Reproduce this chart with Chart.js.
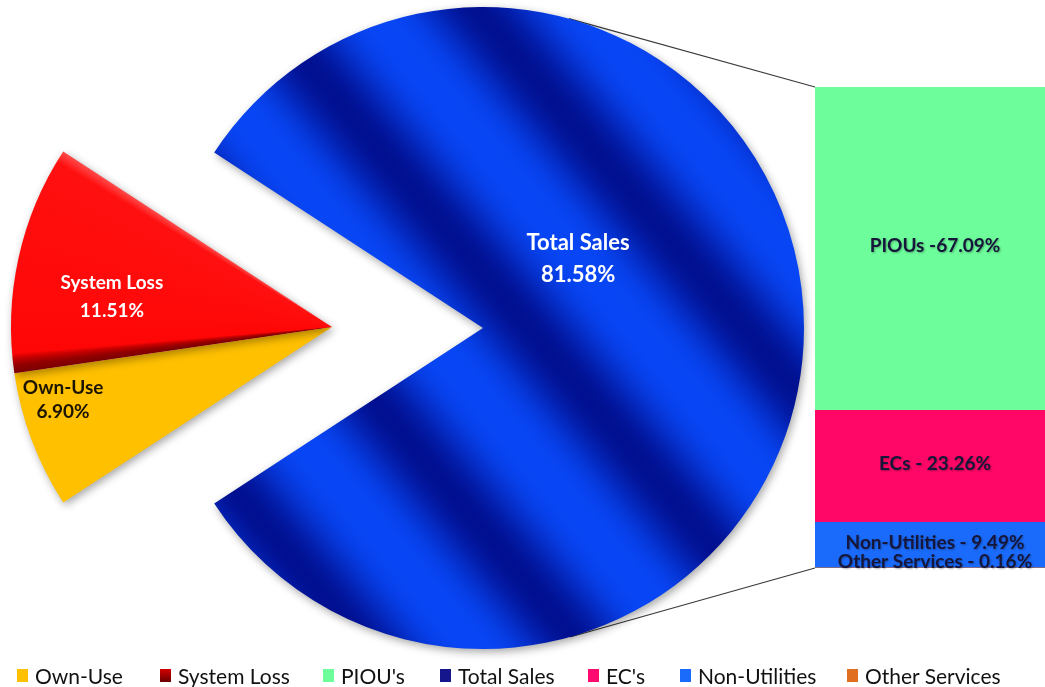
<!DOCTYPE html>
<html>
<head>
<meta charset="utf-8">
<script src="https://cdn.jsdelivr.net/npm/chart.js@4.4.1/dist/chart.umd.min.js"></script>
<style>
  html, body { margin: 0; padding: 0; background: #fff; }
  #stage { position: relative; width: 1045px; height: 687px; overflow: hidden; font-family: Lato, "Open Sans", sans-serif; }
  #stage canvas { position: absolute; left: 0; top: 0; }
  #legend { position: absolute; left: 0; top: 663px; width: 1045px; height: 24px; }
  .item { position: absolute; top: 0; height: 24px; display: flex; align-items: center; font-size: 21px; color: #111; white-space: nowrap; }
  .swatch { width: 11px; height: 13px; margin-right: 7px; }
</style>
</head>
<body>
<div id="stage">
  <canvas id="barChart" width="1045" height="687"></canvas>
  <canvas id="pieMain" width="1045" height="687"></canvas>
  <canvas id="pieOut" width="1045" height="687"></canvas>
  <div id="legend"></div>
</div>
<script>
// main pie: Total Sales stays, the other two are pulled out to the left
const pieLabels = ["Total Sales", "Own-Use", "System Loss"];
const pieValues = [81.58, 6.90, 11.51];

// breakdown of Total Sales shown in the bar
const barLabels = ["PIOUs", "ECs", "Non-Utilities", "Other Services"];
const barValues = [67.09, 23.26, 9.49, 0.16];
const barSeparators = [" -", " - ", " - ", " - "];

const legendNames = ["Own-Use", "System Loss", "PIOU's", "Total Sales", "EC's", "Non-Utilities", "Other Services"];

// styles
const barColors = ["#6dfd9b", "#fe0766", "#1a6bfb", "#e46c12"];
const legendColors = ["#ffc000", "linear-gradient(#d40000, #6a0000)", "#6dfd9b", "#16168c", "#ff0a6e", "#1a6bfb", "#e07020"];
const legendLeft = [17, 160, 323, 440, 588, 680, 847];
const pieLabelStyle = [
  { angle: -36, frac: 0.366, color: "#ffffff", size: 22, gap: 32 },
  { angle: 164.8, frac: 0.868, color: "#1a1400", size: 19, gap: 24 },
  { angle: 187.8, frac: 0.692, color: "#ffffff", size: 19, gap: 28 },
];

const PIE_R = 321;
const pieSum = pieValues.reduce((a, b) => a + b, 0);
const gapDeg = (pieValues[1] + pieValues[2]) / pieSum * 360;
const pieRotation = 270 + gapDeg / 2;
const rad = (d) => d * Math.PI / 180;
const CLEAR = "rgba(0,0,0,0)";

function areaCenter(chart) {
  const a = chart.chartArea;
  return { cx: (a.left + a.right) / 2, cy: (a.top + a.bottom) / 2 };
}

// soft diagonal light/dark bands across the big slice
function blueStripes(chart) {
  if (!chart.chartArea) return "#0a3de0";
  const { cx, cy } = areaCenter(chart);
  const ux = Math.cos(rad(-40)), uy = Math.sin(rad(-40));
  const half = PIE_R + 10;
  const g = chart.ctx.createLinearGradient(cx - ux * half, cy - uy * half, cx + ux * half, cy + uy * half);
  const len = half * 2, period = 165, phase = 36;
  const dark = [1, 16, 145], light = [8, 70, 245];
  for (let i = 0; i <= 100; i++) {
    const t = i / 100;
    const s = 0.5 + 0.5 * Math.cos(2 * Math.PI * (t * len - phase) / period);
    const k = Math.pow(s, 1.4);
    const c = dark.map((d, j) => Math.round(light[j] + (d - light[j]) * k));
    g.addColorStop(t, `rgb(${c.join(",")})`);
  }
  return g;
}

function redBevel(chart) {
  if (!chart.chartArea) return "#ff0000";
  const { cx, cy } = areaCenter(chart);
  const start = rad(pieRotation - 90 + (pieValues[0] + pieValues[1]) / pieSum * 360);
  const span = pieValues[2] / pieSum;
  const g = chart.ctx.createConicGradient(start, cx, cy);
  g.addColorStop(0, "#7a0000");
  g.addColorStop(0.004, "#920000");
  g.addColorStop(0.0075, "#c80000");
  g.addColorStop(0.010, "#ff0606");
  g.addColorStop(0.05, "#ff0a0a");
  g.addColorStop(span - 0.006, "#ff1010");
  g.addColorStop(span, "#ff4a4a");
  g.addColorStop(Math.min(span + 0.001, 1), "#ff0000");
  g.addColorStop(1, "#ff0000");
  return g;
}

const softShadow = {
  id: "softShadow",
  beforeDatasetsDraw(chart) {
    const c = chart.ctx;
    c.save();
    c.shadowColor = "rgba(0,0,0,0.35)";
    c.shadowBlur = 8;
    c.shadowOffsetX = 2;
    c.shadowOffsetY = 3;
  },
  afterDatasetsDraw(chart) {
    chart.ctx.restore();
  },
};

function pieTextPlugin(indexes) {
  return {
    id: "pieText",
    afterDatasetsDraw(chart) {
      const c = chart.ctx;
      const meta = chart.getDatasetMeta(0);
      c.save();
      c.textAlign = "center";
      c.textBaseline = "middle";
      indexes.forEach((i) => {
        const el = meta.data[i];
        const st = pieLabelStyle[i];
        const r = el.outerRadius * st.frac;
        const x = el.x + r * Math.cos(rad(st.angle));
        const y = el.y + r * Math.sin(rad(st.angle));
        c.font = `bold ${st.size}px Lato, "Open Sans", sans-serif`;
        c.fillStyle = st.color;
        c.fillText(pieLabels[i], x, y - st.gap / 2);
        c.fillText(`${pieValues[i].toFixed(2)}%`, x, y + st.gap / 2);
      });
      c.restore();
    },
  };
}

function pieConfig(fill, padding, indexes) {
  return {
    type: "pie",
    data: {
      labels: pieLabels,
      datasets: [{ data: pieValues, backgroundColor: (ctx) => fill(ctx.chart, ctx.dataIndex), borderWidth: 0 }],
    },
    options: {
      responsive: false,
      animation: false,
      events: [],
      radius: PIE_R,
      rotation: pieRotation,
      layout: { padding },
      plugins: { legend: { display: false }, tooltip: { enabled: false } },
    },
    plugins: [softShadow, pieTextPlugin(indexes)],
  };
}

const pieMainChart = new Chart(
  document.getElementById("pieMain"),
  pieConfig((chart, i) => (i === 0 ? blueStripes(chart) : CLEAR), { left: 158, right: 237, top: 3, bottom: 34 }, [0])
);

new Chart(
  document.getElementById("pieOut"),
  pieConfig((chart, i) => (i === 0 ? CLEAR : i === 1 ? "#ffc000" : redBevel(chart)), { left: 7, right: 388, top: 2, bottom: 35 }, [1, 2])
);

// tangent point on the pie circle seen from a bar corner
function tangentPoint(arc, px, py, side) {
  const dx = px - arc.x, dy = py - arc.y;
  const d = Math.hypot(dx, dy);
  const a = Math.atan2(dy, dx) + side * Math.acos(arc.outerRadius / d);
  return [arc.x + arc.outerRadius * Math.cos(a), arc.y + arc.outerRadius * Math.sin(a)];
}

const connectorLines = {
  id: "connectorLines",
  afterDraw(chart) {
    const arc = pieMainChart.getDatasetMeta(0).data[0];
    const area = chart.chartArea;
    const c = chart.ctx;
    const t1 = tangentPoint(arc, area.left, area.top, -1);
    const t2 = tangentPoint(arc, area.left, area.bottom, 1);
    c.save();
    c.strokeStyle = "#3a3a3a";
    c.lineWidth = 1.2;
    c.beginPath();
    c.moveTo(t1[0], t1[1]);
    c.lineTo(area.left, area.top);
    c.moveTo(t2[0], t2[1]);
    c.lineTo(area.left, area.bottom);
    c.stroke();
    c.restore();
  },
};

const barText = {
  id: "barText",
  afterDatasetsDraw(chart) {
    const c = chart.ctx;
    c.save();
    c.font = 'bold 19px Lato, "Open Sans", sans-serif';
    c.fillStyle = "#16163a";
    c.textAlign = "center";
    c.textBaseline = "middle";
    c.shadowColor = "rgba(0,0,0,0.3)";
    c.shadowBlur = 2;
    c.shadowOffsetX = 1;
    c.shadowOffsetY = 1;
    chart.data.datasets.forEach((ds, i) => {
      const el = chart.getDatasetMeta(i).data[0];
      const top = Math.min(el.y, el.base);
      const bottom = Math.max(el.y, el.base);
      const ty = Math.min((top + bottom) / 2 - 2, bottom - 6);
      c.fillText(`${barLabels[i]}${barSeparators[i]}${barValues[i].toFixed(2)}%`, el.x + 5, ty);
    });
    c.restore();
  },
};

new Chart(document.getElementById("barChart"), {
  type: "bar",
  data: {
    labels: ["Total Sales"],
    datasets: barLabels.map((label, i) => ({
      label,
      data: [barValues[i]],
      backgroundColor: barColors[i],
      borderWidth: 0,
      barPercentage: 1,
      categoryPercentage: 1,
    })),
  },
  options: {
    responsive: false,
    animation: false,
    events: [],
    layout: { padding: { left: 815, right: 0, top: 87, bottom: 119 } },
    plugins: { legend: { display: false }, tooltip: { enabled: false } },
    scales: {
      x: { stacked: true, display: false },
      y: { stacked: true, display: false, min: 0, max: 100, reverse: true },
    },
  },
  plugins: [connectorLines, barText],
});

const legend = document.getElementById("legend");
legendNames.forEach((name, i) => {
  const item = document.createElement("div");
  item.className = "item";
  item.style.left = `${legendLeft[i]}px`;
  item.innerHTML = `<span class="swatch" style="background:${legendColors[i]}"></span>${name}`;
  legend.appendChild(item);
});
</script>
</body>
</html>
